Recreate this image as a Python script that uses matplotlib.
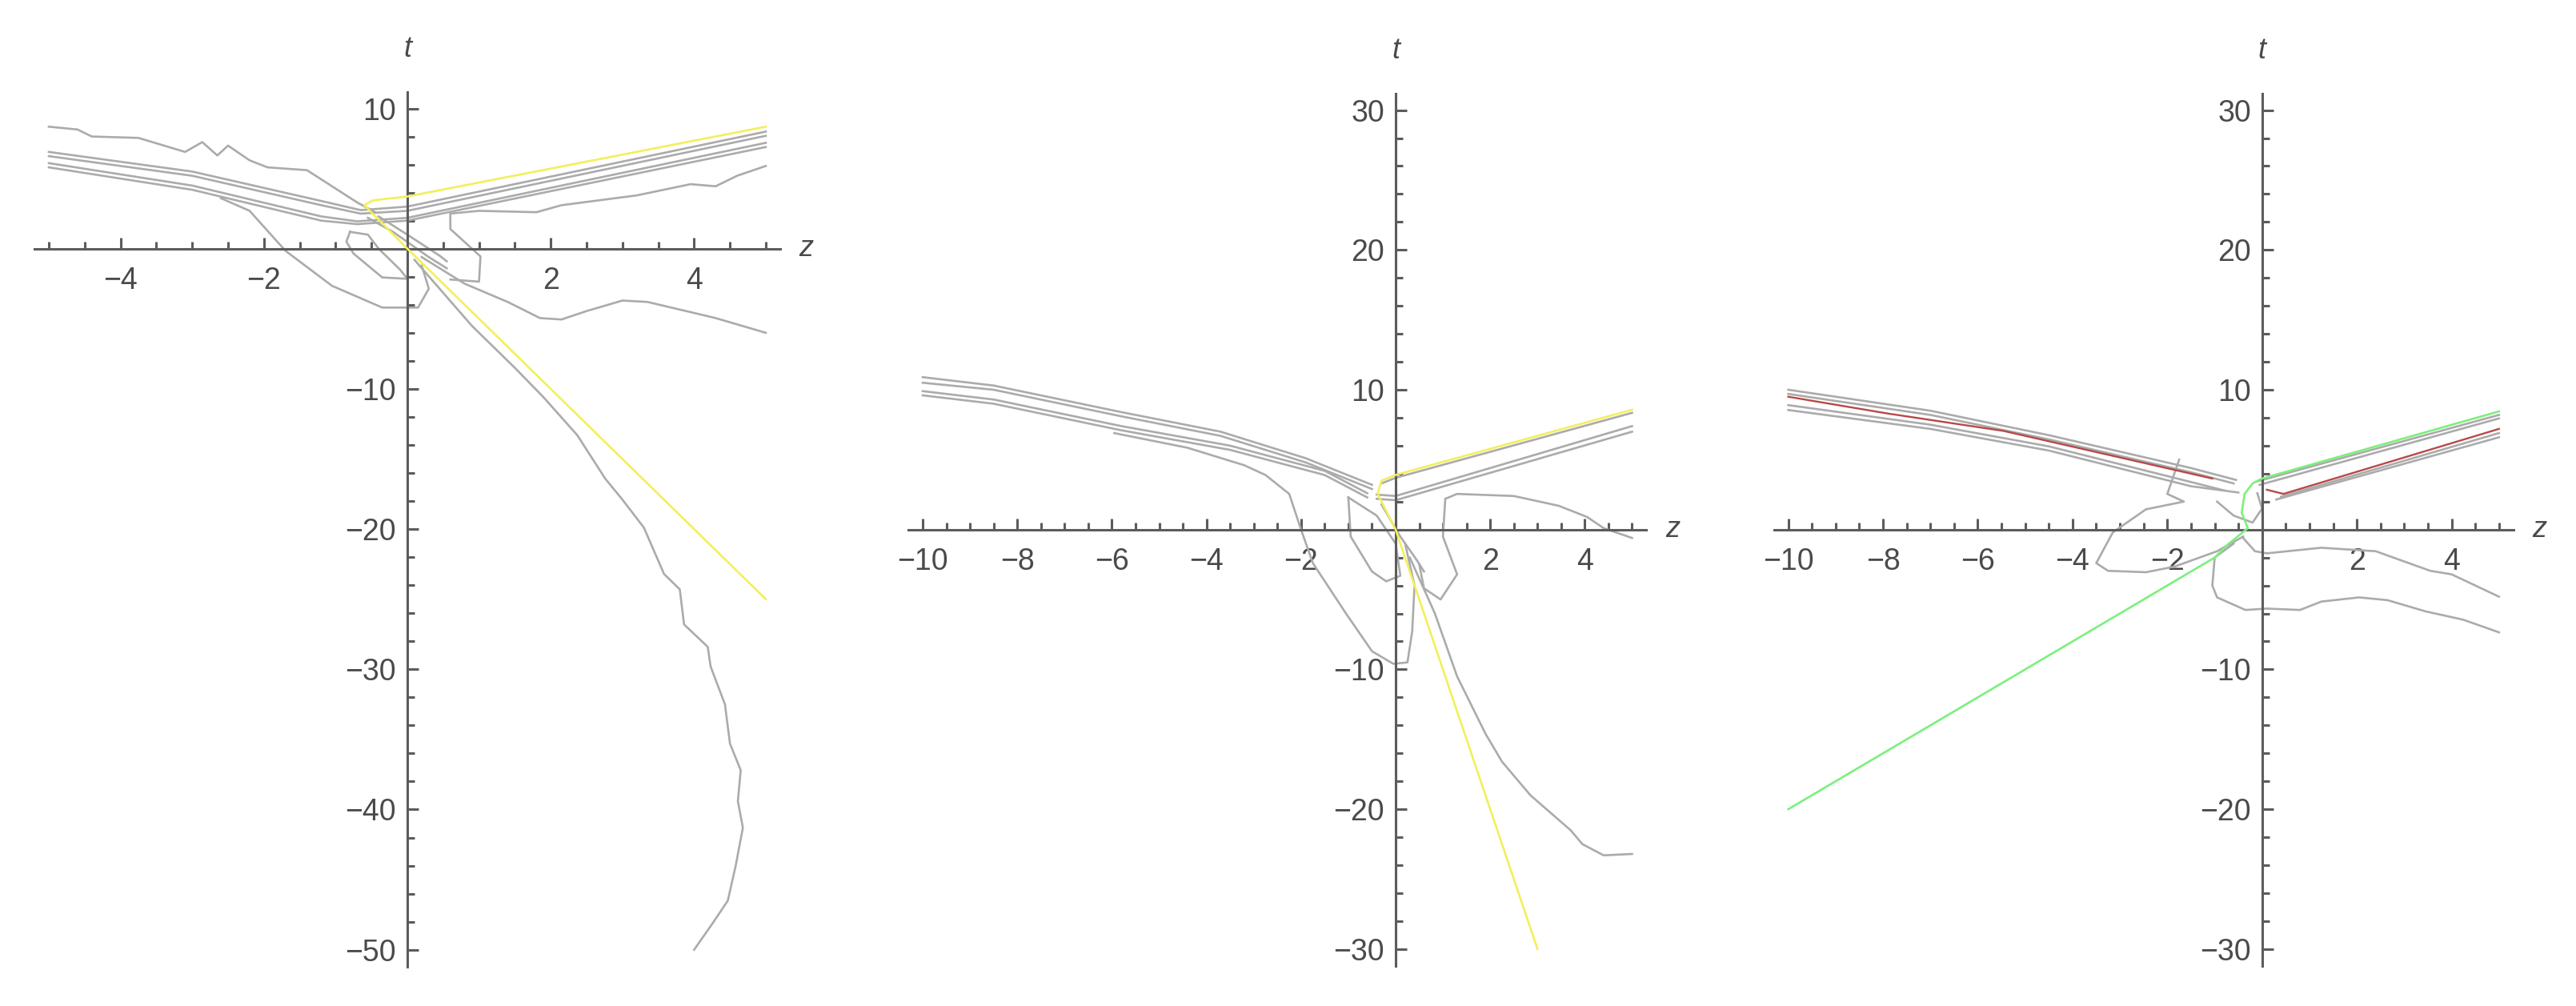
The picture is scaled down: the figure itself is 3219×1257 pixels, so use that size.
import matplotlib.pyplot as plt
from matplotlib.ticker import MultipleLocator, FixedLocator

# ---------------- data (z, t) ----------------
# panel 1 : z in [-5, 5], t in [-50, 10]
p1_zticks = [-4, -2, 2, 4]
p1_tticks = [10, -10, -20, -30, -40, -50]
p1_yellow = [(5.0, 8.7), (0.0, 3.72), (-0.48, 3.45), (-0.6, 3.1), (0.0, 0.0), (5.0, -25.0)]
p1_wavy = [(-5.0, 8.7), (-4.6, 8.5), (-4.4, 8.0), (-3.75, 7.9), (-3.1, 6.9), (-2.86, 7.6),
           (-2.65, 6.65), (-2.5, 7.35), (-2.2, 6.3), (-1.95, 5.8), (-1.4, 5.6), (-1.05, 4.45),
           (-0.7, 3.3), (-0.45, 2.6)]
p1_v1 = [(-5.0, 6.9), (-3.0, 5.5), (-1.2, 3.4), (-0.65, 2.75), (0.0, 3.0), (5.0, 8.35)]
p1_v2 = [(-5.0, 6.6), (-3.0, 5.2), (-1.2, 3.1), (-0.65, 2.5), (0.0, 2.7), (5.0, 8.05)]
p1_v3 = [(-5.0, 6.1), (-3.0, 4.5), (-1.2, 2.3), (-0.7, 1.95), (0.0, 2.2), (5.0, 7.55)]
p1_v4 = [(-5.0, 5.8), (-3.0, 4.2), (-1.2, 2.0), (-0.7, 1.75), (0.0, 2.0), (5.0, 7.25)]
p1_right_loop = [(0.6, -2.2), (1.0, -2.35), (1.02, -0.55), (0.6, 1.4), (0.6, 2.5), (1.0, 2.7),
                 (1.8, 2.6), (2.15, 3.1), (3.2, 3.8), (3.95, 4.6), (4.3, 4.45), (4.6, 5.2),
                 (5.0, 5.9)]
p1_left_down = [(-2.6, 3.6), (-2.2, 2.7), (-1.7, -0.15), (-1.05, -2.65), (-0.35, -4.2),
                (0.15, -4.2), (0.3, -2.85), (0.2, -1.2)]
p1_small_loop = [(-0.8, 1.2), (-0.85, 0.5), (-0.75, -0.35), (-0.35, -2.05), (0.0, -2.15),
                 (-0.1, -1.5), (-0.4, 0.0), (-0.55, 1.0), (-0.8, 1.2)]
p1_fan1 = [(-0.55, 2.2), (-0.2, 1.2), (0.3, -0.6), (0.55, -1.4)]
p1_fan2 = [(-0.4, 2.3), (0.0, 1.0), (0.45, -0.5), (0.55, -0.9)]
p1_down_right = [(0.2, -0.6), (0.8, -2.5), (1.4, -3.8), (1.85, -4.95), (2.15, -5.05),
                 (2.5, -4.45), (3.0, -3.7), (3.35, -3.8), (4.3, -4.95), (5.0, -6.0)]
p1_long = [(0.1, -0.8), (0.9, -5.5), (1.5, -8.5), (1.9, -10.6), (2.37, -13.3), (2.76, -16.4),
           (3.0, -17.9), (3.3, -19.9), (3.58, -23.2), (3.8, -24.3), (3.86, -26.8),
           (4.19, -28.4), (4.23, -29.8), (4.43, -32.5), (4.5, -35.3), (4.65, -37.2),
           (4.61, -39.4), (4.68, -41.3), (4.58, -44.0), (4.47, -46.5), (4.26, -48.1),
           (4.0, -50.0)]

# panel 2 : z in [-10, 5], t in [-30, 30]
p2_zticks = [-10, -8, -6, -4, -2, 2, 4]
p2_tticks = [30, 20, 10, -10, -20, -30]
p2_yellow = [(5.0, 8.57), (0.0, 3.91), (-0.3, 3.5), (-0.38, 2.55), (0.0, 0.0), (3.0, -30.0)]
p2_l1 = [(-10.0, 10.9), (-8.5, 10.3), (-5.8, 8.4), (-3.7, 7.0), (-1.9, 5.1), (-0.5, 3.2)]
p2_l2 = [(-10.0, 10.5), (-8.5, 10.0), (-5.8, 8.1), (-3.7, 6.7), (-1.9, 4.8), (-0.5, 2.9)]
p2_l3 = [(-10.0, 9.9), (-8.5, 9.3), (-5.8, 7.4), (-3.5, 6.0), (-1.5, 4.2), (-0.6, 2.6)]
p2_l4 = [(-10.0, 9.6), (-8.5, 9.0), (-5.8, 7.1), (-3.5, 5.7), (-1.5, 3.9), (-0.6, 2.3)]
p2_r1 = [(-0.3, 3.3), (0.0, 3.7), (5.0, 8.35)]
p2_r2 = [(-0.4, 2.5), (0.0, 2.4), (5.0, 7.4)]
p2_r3 = [(-0.4, 2.2), (0.0, 2.1), (5.0, 7.0)]
p2_irregular = [(-5.95, 6.9), (-4.4, 5.85), (-3.2, 4.6), (-2.75, 3.9), (-2.25, 2.55), (-2.0, 0.0),
                (-1.75, -2.4), (-1.05, -6.0), (-0.5, -8.7), (-0.05, -9.6), (0.25, -9.5),
                (0.35, -7.3), (0.4, -4.0), (0.2, -1.0)]
p2_right_loop = [(5.0, -0.6), (4.4, 0.1), (4.05, 0.9), (3.45, 1.7), (2.5, 2.4), (1.3, 2.55),
                 (1.05, 2.2), (1.0, -0.5), (1.3, -3.2), (0.95, -5.0), (0.6, -4.2), (0.5, -2.5)]
p2_loop2 = [(-1.0, 2.3), (-0.95, -0.5), (-0.5, -3.0), (-0.2, -3.7), (0.1, -3.3), (0.0, -1.0),
            (-0.4, 1.0), (-1.0, 2.3)]
p2_fan = [(-0.3, 1.8), (0.1, -0.5), (0.45, -2.2), (0.6, -3.0)]
p2_long = [(0.3, -2.0), (0.83, -6.0), (1.3, -10.5), (1.9, -14.6), (2.25, -16.6), (2.85, -19.0),
           (3.7, -21.5), (3.95, -22.5), (4.4, -23.3), (5.0, -23.2)]

# panel 3 : z in [-10, 5], t in [-30, 30]
p3_zticks = [-10, -8, -6, -4, -2, 2, 4]
p3_tticks = [30, 20, 10, -10, -20, -30]
p3_green = [(5.0, 8.45), (0.0, 3.65), (-0.2, 3.3), (-0.37, 2.55), (-0.43, 1.2), (-0.3, 0.1),
            (-0.7, -1.0), (-1.0, -2.0), (-10.0, -20.0)]
p3_red_left = [(-10.0, 9.5), (-7.9, 8.3), (-5.45, 7.05), (-1.05, 3.65)]
p3_red_right = [(0.1, 2.85), (0.45, 2.55), (5.0, 7.2)]
p3_l1 = [(-10.0, 10.0), (-7.0, 8.5), (-4.5, 6.75), (-1.5, 4.4), (-0.55, 3.55)]
p3_l2 = [(-10.0, 9.7), (-7.0, 8.2), (-4.5, 6.45), (-1.5, 4.1), (-0.6, 3.3)]
p3_l3 = [(-10.0, 8.9), (-7.0, 7.5), (-4.5, 5.95), (-1.5, 3.4), (-0.8, 2.8)]
p3_l4 = [(-10.0, 8.55), (-7.0, 7.2), (-4.5, 5.65), (-1.5, 3.1), (-0.5, 2.65)]
p3_r1 = [(-0.1, 3.45), (5.0, 8.2)]
p3_r2 = [(-0.05, 3.2), (5.0, 7.95)]
p3_r3 = [(0.4, 2.35), (5.0, 6.9)]
p3_r4 = [(0.3, 2.15), (5.0, 6.6)]
p3_left_loop = [(-1.75, 5.0), (-2.0, 2.55), (-1.65, 2.0), (-2.45, 1.45), (-3.15, -0.2),
                (-3.5, -2.4), (-3.25, -2.95), (-2.45, -3.05), (-1.85, -2.65), (-0.95, -1.55),
                (-0.4, -0.5)]
p3_lower_right = [(-0.4, -0.6), (-0.15, -1.55), (0.1, -1.7), (1.25, -1.3), (2.4, -1.55),
                  (3.55, -2.95), (4.0, -3.2), (5.0, -4.8)]
p3_bottom = [(-0.6, -1.0), (-1.0, -2.0), (-1.05, -4.0), (-0.95, -4.85), (-0.35, -5.75),
             (0.1, -5.65), (0.8, -5.75), (1.25, -5.15), (2.05, -4.85), (2.65, -5.05),
             (3.45, -5.85), (4.25, -6.45), (5.0, -7.35)]
p3_center = [(-0.95, 2.0), (-0.6, 1.0), (-0.2, 0.5), (0.0, 1.5), (-0.1, 2.6)]

# ---------------- drawing ----------------
GRAY = '#ababab'
AXC = '#5c5c5c'
TXT = '#4a4a4a'
FONT = ['Liberation Sans Narrow', 'Liberation Sans', 'DejaVu Sans']

W, H = 3219, 1257
fig = plt.figure(figsize=(W / 100, H / 100), dpi=100)


def rect(x0, ytop, x1, ybot):
    return [x0 / W, 1 - ybot / H, (x1 - x0) / W, (ybot - ytop) / H]


def setup(ax, xlim, ylim, zticks, tticks):
    ax.set_xlim(*xlim)
    ax.set_ylim(*ylim)
    for s in ['top', 'right']:
        ax.spines[s].set_visible(False)
    for s in ['left', 'bottom']:
        ax.spines[s].set_position('zero')
        ax.spines[s].set_color(AXC)
        ax.spines[s].set_linewidth(2.2)
    ax.xaxis.set_major_locator(FixedLocator(zticks))
    ax.yaxis.set_major_locator(FixedLocator(tticks))
    ax.xaxis.set_minor_locator(MultipleLocator(0.5))
    ax.yaxis.set_minor_locator(MultipleLocator(2))
    ax.tick_params(which='both', direction='in', color=AXC, width=2.2)
    ax.tick_params(which='major', length=10)
    ax.tick_params(which='minor', length=6.5)
    ax.tick_params(axis='x', which='major', pad=16)
    ax.tick_params(axis='y', which='major', pad=10)
    for lab in ax.get_xticklabels() + ax.get_yticklabels():
        lab.set_family(FONT)
        lab.set_fontsize(27)
        lab.set_color(TXT)
    ax.patch.set_alpha(0)
    ax.annotate('t', xy=(0, 1), xycoords=ax.get_xaxis_transform(), xytext=(0, 38),
                textcoords='offset points', ha='center', va='center', fontsize=26,
                style='italic', color=TXT, family=FONT)
    ax.annotate('z', xy=(1, 0), xycoords=ax.get_yaxis_transform(), xytext=(17, 0),
                textcoords='offset points', ha='left', va='center', fontsize=26,
                style='italic', color=TXT, family=FONT)


def line(ax, pts, color=GRAY, lw=1.9, z=2):
    zs, ts = zip(*pts)
    ax.plot(zs, ts, color=color, lw=lw, zorder=z, solid_joinstyle='round')


ax1 = fig.add_axes(rect(43.1, 114.5, 974.9, 1207.7))
setup(ax1, (-5.2, 5.2), (-51.2, 11.2), p1_zticks, p1_tticks)
for pts in [p1_wavy, p1_v1, p1_v2, p1_v3, p1_v4, p1_right_loop, p1_left_down,
            p1_small_loop, p1_fan1, p1_fan2, p1_down_right, p1_long]:
    line(ax1, pts)
line(ax1, p1_yellow, color='#f2f05a', lw=1.9, z=3)

ax2 = fig.add_axes(rect(1135.3, 116.6, 2057.2, 1206.8))
setup(ax2, (-10.3, 5.3), (-31.2, 31.2), p2_zticks, p2_tticks)
for pts in [p2_l1, p2_l2, p2_l3, p2_l4, p2_r1, p2_r2, p2_r3, p2_irregular, p2_right_loop,
            p2_loop2, p2_fan, p2_long]:
    line(ax2, pts)
line(ax2, p2_yellow, color='#f2f05a', lw=1.9, z=3)

ax3 = fig.add_axes(rect(2216.9, 116.6, 3140.5, 1206.8))
setup(ax3, (-10.3, 5.3), (-31.2, 31.2), p3_zticks, p3_tticks)
for pts in [p3_l1, p3_l2, p3_l3, p3_l4, p3_r1, p3_r2, p3_r3, p3_r4, p3_left_loop,
            p3_lower_right, p3_bottom, p3_center]:
    line(ax3, pts)
line(ax3, p3_red_left, color='#b84848', lw=1.7, z=3)
line(ax3, p3_red_right, color='#b84848', lw=1.7, z=3)
line(ax3, p3_green, color='#7cf07c', lw=1.9, z=3)

fig.savefig('out.png', dpi=100)
